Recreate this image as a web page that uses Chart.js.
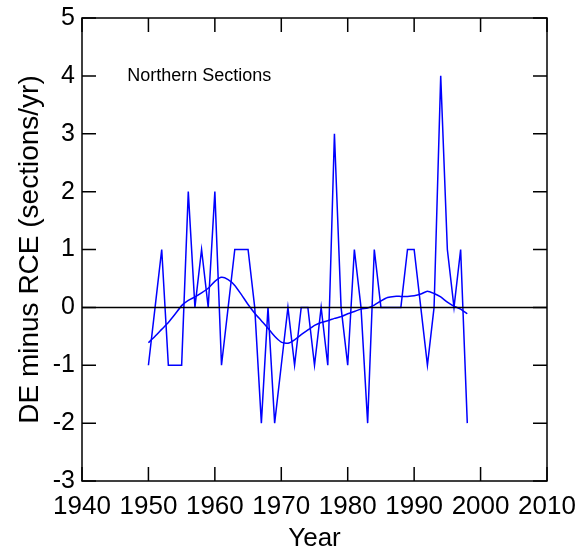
<!DOCTYPE html>
<html>
<head>
<meta charset="utf-8">
<script src="https://cdn.jsdelivr.net/npm/chart.js"></script>
<style>
  html, body { margin: 0; padding: 0; background: #fff; }
  #wrap { width: 583px; height: 555px; }
</style>
</head>
<body>
<div id="wrap"><canvas id="chart" width="583" height="555"></canvas></div>
<script>
// yearly difference, DE minus RCE (sections per year)
const years = [
  1950, 1951, 1952, 1953, 1954, 1955, 1956, 1957, 1958, 1959,
  1960, 1961, 1962, 1963, 1964, 1965, 1966, 1967, 1968, 1969,
  1970, 1971, 1972, 1973, 1974, 1975, 1976, 1977, 1978, 1979,
  1980, 1981, 1982, 1983, 1984, 1985, 1986, 1987, 1988, 1989,
  1990, 1991, 1992, 1993, 1994, 1995, 1996, 1997, 1998
];
const deMinusRce = [
  -1, 0, 1, -1, -1, -1, 2, 0, 1, 0,
  2, -1, 0, 1, 1, 1, 0, -2, 0, -2,
  -1, 0, -1, 0, 0, -1, 0, -1, 3, 0,
  -1, 1, 0, -2, 1, 0, 0, 0, 0, 1,
  1, 0, -1, 0, 4, 1, 0, 1, -2
];
// smoothed trend
const smoothed = [
  -0.61, -0.50, -0.38, -0.26, -0.12, 0.03, 0.12, 0.18, 0.25, 0.33,
  0.45, 0.52, 0.48, 0.38, 0.22, 0.05, -0.10, -0.23, -0.36, -0.50,
  -0.60, -0.62, -0.56, -0.47, -0.39, -0.31, -0.26, -0.23, -0.19, -0.16,
  -0.11, -0.07, -0.03, -0.01, 0.04, 0.11, 0.17, 0.19, 0.19, 0.19,
  0.20, 0.23, 0.28, 0.24, 0.18, 0.09, 0.02, -0.03, -0.11
];
const zeroLineX = [1940, 2010];
const xTicks = [1940, 1950, 1960, 1970, 1980, 1990, 2000, 2010];
const yTicks = [-3, -2, -1, 0, 1, 2, 3, 4, 5];
const panelLabel = 'Northern Sections';

const family = '"Liberation Sans", Arial, sans-serif';
const blue = '#0000ff';

// box around the plot with inward tick marks, plus the panel label
const frame = {
  id: 'frame',
  afterDatasetsDraw(chart) {
    const { ctx, chartArea: a, scales: { x, y } } = chart;
    const len = 14;
    ctx.save();
    ctx.strokeStyle = '#000';
    ctx.lineWidth = 1.5;
    ctx.strokeRect(a.left, a.top, a.right - a.left, a.bottom - a.top);
    ctx.beginPath();
    xTicks.forEach(v => {
      const px = x.getPixelForValue(v);
      ctx.moveTo(px, a.top); ctx.lineTo(px, a.top + len);
      ctx.moveTo(px, a.bottom); ctx.lineTo(px, a.bottom - len);
    });
    yTicks.forEach(v => {
      const py = y.getPixelForValue(v);
      ctx.moveTo(a.left, py); ctx.lineTo(a.left + len, py);
      ctx.moveTo(a.right, py); ctx.lineTo(a.right - len, py);
    });
    ctx.stroke();

    ctx.fillStyle = '#000';
    ctx.font = '18px ' + family;
    ctx.textBaseline = 'middle';
    ctx.fillText(panelLabel, x.getPixelForValue(1946.8), y.getPixelForValue(4));
    ctx.restore();
  }
};

new Chart(document.getElementById('chart'), {
  type: 'line',
  data: {
    datasets: [
      {
        data: zeroLineX.map(v => ({ x: v, y: 0 })),
        borderColor: '#000', borderWidth: 1.5, pointRadius: 0
      },
      {
        data: years.map((yr, i) => ({ x: yr, y: deMinusRce[i] })),
        borderColor: blue, borderWidth: 1.5, pointRadius: 0, tension: 0
      },
      {
        data: years.map((yr, i) => ({ x: yr, y: smoothed[i] })),
        borderColor: blue, borderWidth: 1.5, pointRadius: 0, tension: 0.2
      }
    ]
  },
  options: {
    responsive: false,
    animation: false,
    layout: { padding: { top: 18, right: 36, left: 0, bottom: 0 } },
    plugins: { legend: { display: false }, tooltip: { enabled: false } },
    scales: {
      x: {
        type: 'linear', min: 1940, max: 2010,
        afterBuildTicks: s => { s.ticks = xTicks.map(value => ({ value })); },
        afterFit: s => { s.height = 74; s.paddingLeft = 0; s.paddingRight = 0; },
        grid: { display: false, drawTicks: false },
        border: { display: false },
        ticks: { autoSkip: false, maxRotation: 0, padding: 10, color: '#000',
                 callback: v => String(v),
                 font: { size: 26, family } },
        title: { display: true, text: 'Year', color: '#000',
                 font: { size: 26, family, lineHeight: 1 }, padding: { top: 0, bottom: 3 } }
      },
      y: {
        type: 'linear', min: -3, max: 5,
        afterBuildTicks: s => { s.ticks = yTicks.map(value => ({ value })); },
        afterFit: s => { s.width = 82; s.paddingTop = 0; s.paddingBottom = 0; },
        grid: { display: false, drawTicks: false },
        border: { display: false },
        ticks: { padding: 7, color: '#000', font: { size: 25, family } },
        title: { display: true, text: 'DE minus RCE (sections/yr)', color: '#000',
                 font: { size: 28, family, lineHeight: 1 }, padding: { top: 16, bottom: 0 } }
      }
    }
  },
  plugins: [frame]
});
</script>
</body>
</html>
